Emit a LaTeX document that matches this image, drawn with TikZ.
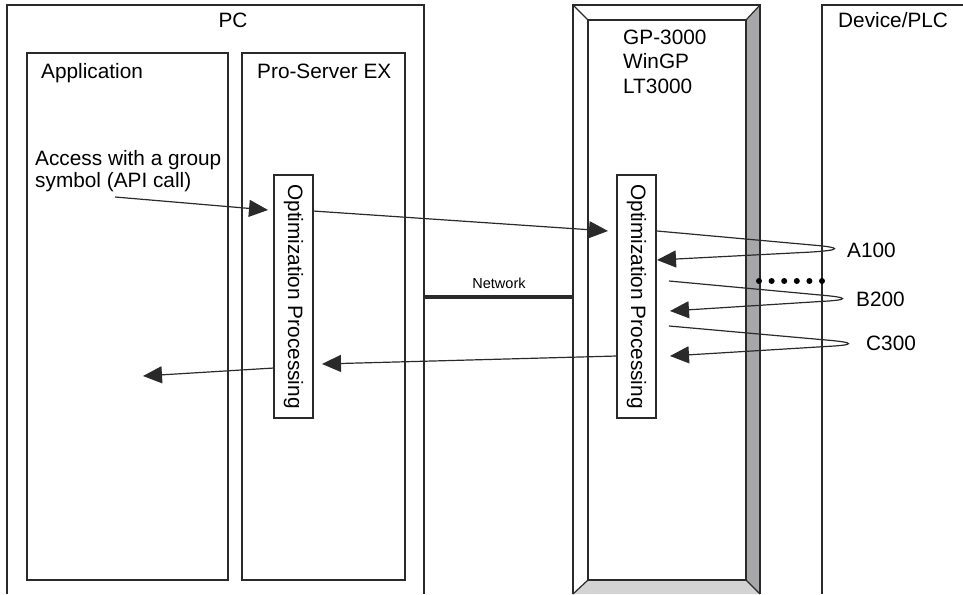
\documentclass[tikz,border=0pt]{standalone}
\usepackage{fontspec}
\setmainfont{Liberation Sans}
\usetikzlibrary{arrows.meta}
\definecolor{ln}{HTML}{2A2A2A}
\definecolor{bevdark}{HTML}{A7A7A9}
\definecolor{bevlight}{HTML}{D3D3D3}
\tikzset{
  txt/.style={inner sep=0pt, font=\fontsize{20.8}{24}\selectfont},
  frame/.style={draw=ln, line width=1.2pt},
  lbl/.style={txt, anchor=base west},
  optbox/.style={frame, fill=white},
  arr/.style={draw=ln, line width=1.2pt, -{Triangle[length=19pt,width=17pt]}},
  netline/.style={draw=ln, line width=4.5pt},
  dotmark/.style={circle, fill=black, inner sep=0pt, minimum size=6pt}
}
\begin{document}
\begin{tikzpicture}[x=1pt,y=-1pt]
\useasboundingbox (0,0) rectangle (963,594);
% PC outer (open at bottom)
\draw[frame] (7,594) -- (7,5) -- (424,5) -- (424,594);
\node[txt, anchor=base] (pc) at (233,28) {PC};
% Application / Pro-Server EX
\draw[frame] (27,53) rectangle (228,580);
\node[lbl] (app) at (41,78) {Application};
\draw[frame] (242,53) rectangle (405,580);
\node[lbl] (pse) at (257,78) {Pro-Server EX};
% GP device with bevel
\fill[bevdark] (746,20) -- (760,5) -- (760,594) -- (746,580) -- cycle;
\fill[bevlight] (588,580) -- (746,580) -- (760,594) -- (573,594) -- cycle;
\draw[frame] (573,594) -- (573,5) -- (760,5) -- (760,594);
\draw[frame] (588,20) rectangle (746,580);
\draw[frame] (573,5) -- (588,20);
\draw[frame] (760,5) -- (746,20);
\draw[frame] (573,594) -- (588,580);
\draw[frame] (760,594) -- (746,580);
\node[lbl] (gp1) at (623,45) {GP-3000};
\node[lbl] (gp2) at (623,69) {WinGP};
\node[lbl] (gp3) at (623,93) {LT3000};
% Device/PLC (open at right and bottom)
\draw[frame] (822,594) -- (822,5) -- (963,5);
\node[lbl] (dev) at (838,28) {Device/PLC};
% Optimization boxes
\draw[optbox] (274,175) rectangle (313,418);
\node[txt, rotate=-90] (opt1) at (293.5,296.5) {Optimization Processing};
\draw[optbox] (617,175) rectangle (656,418);
\node[txt, rotate=-90] (opt2) at (636.5,296.5) {Optimization Processing};
% Network
\coordinate (nL) at (424,297);
\coordinate (nR) at (573,297);
\draw[netline] (nL) -- (nR);
\node[inner sep=0pt, font=\fontsize{14.5}{16}\selectfont] (net) at (499,283) {Network};
% Access text
\node[lbl] (acc1) at (35,165) {Access with a group};
\node[lbl] (acc2) at (35,187) {symbol (API call)};
% coordinates
\coordinate (a1s) at (115,197);
\coordinate (a1e) at (268,210);
\coordinate (a2s) at (313,211);
\coordinate (a2e) at (608,231);
\coordinate (r1s) at (617,356);
\coordinate (r1e) at (322,364);
\coordinate (r2s) at (274,368);
\coordinate (r2e) at (143,376);
\draw[arr] (a1s) -- (a1e);
\draw[arr] (a2s) -- (a2e);
\draw[arr] (r1s) -- (r1e);
\draw[arr] (r2s) -- (r2e);
% loops
\coordinate (As) at (657,231);
\coordinate (Ae) at (657,260);
\draw[arr] (As) -- (812,245) .. controls (842,247.5) and (842,250) .. (812,252) -- (Ae);
\coordinate (Bs) at (669,281);
\coordinate (Be) at (670,311);
\draw[arr] (Bs) -- (820,295) .. controls (850,297.5) and (850,300) .. (820,301.5) -- (Be);
\coordinate (Cs) at (669,326);
\coordinate (Ce) at (670,356);
\draw[arr] (Cs) -- (826,340) .. controls (856,342.5) and (856,345) .. (826,346.5) -- (Ce);
\node[txt, anchor=west] (A) at (847,250) {A100};
\node[txt, anchor=west] (B) at (856,299) {B200};
\node[txt, anchor=west] (C) at (866,343) {C300};
% dots
\foreach \i in {0,...,5} {
  \node[dotmark] (d\i) at (759+\i*12.6,281) {};
}
\end{tikzpicture}
\end{document}
